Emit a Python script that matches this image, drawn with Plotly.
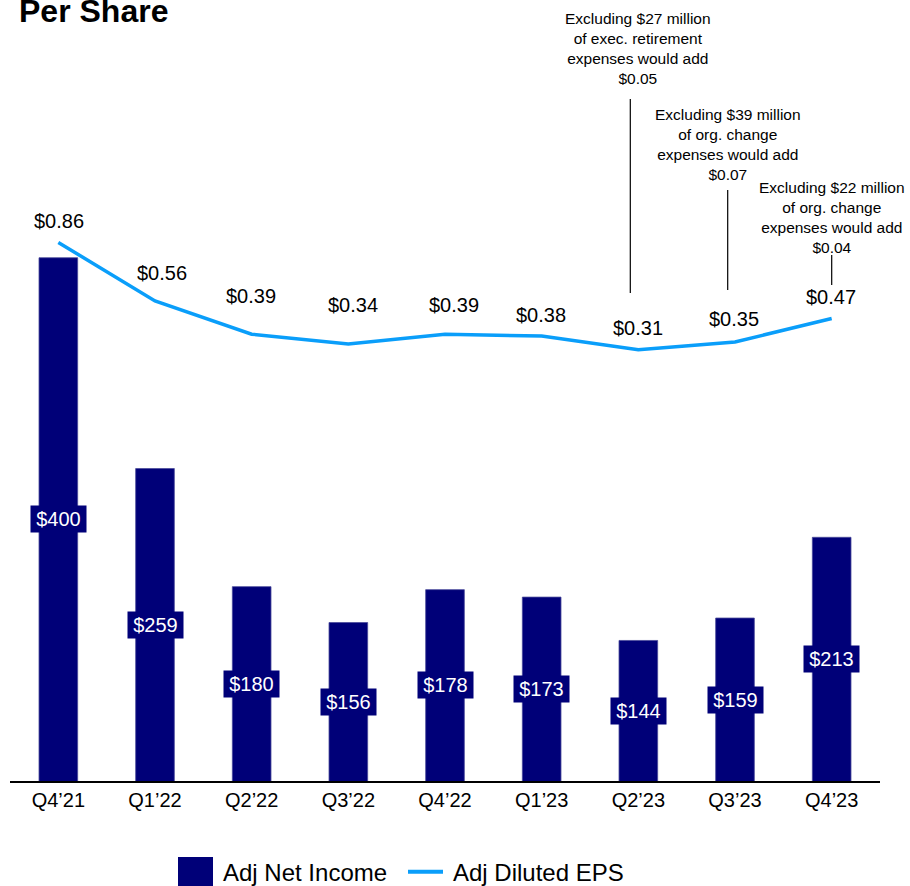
import plotly.graph_objects as go

# Quarterly figures
quarters = ["Q4\u201921", "Q1\u201922", "Q2\u201922", "Q3\u201922", "Q4\u201922",
            "Q1\u201923", "Q2\u201923", "Q3\u201923", "Q4\u201923"]
adj_net_income = [400, 259, 180, 156, 178, 173, 144, 159, 213]   # $ millions
adj_diluted_eps = [0.86, 0.56, 0.39, 0.34, 0.39, 0.38, 0.31, 0.35, 0.47]

# Notes on one-time expenses (quarter, text)
notes = [
    ("Q2\u201923", "Excluding $27 million<br>of exec. retirement<br>expenses would add<br>$0.05"),
    ("Q3\u201923", "Excluding $39 million<br>of org. change<br>expenses would add<br>$0.07"),
    ("Q4\u201923", "Excluding $22 million<br>of org. change<br>expenses would add<br>$0.04"),
]

NAVY = "#000078"
BLUE = "#0A9EFA"
FONT = "Liberation Sans, Arial, sans-serif"

W, H = 910, 886
ML, MR, MT, MB = 10, 30, 20, 105
PW, PH = W - ML - MR, H - MT - MB
Y1 = [50, 559]
Y2 = [-1.9, 2.0]


def px_x(p):
    return (p - ML) / PW


def px_y(p):
    return (H - MB - p) / PH


fig = go.Figure()

fig.add_trace(go.Bar(
    x=quarters, y=adj_net_income, name="Adj Net Income",
    marker=dict(color=NAVY, line=dict(color="#4a4a9a", width=0.8)),
    width=0.4, showlegend=False, hoverinfo="skip",
))

fig.add_trace(go.Scatter(
    x=quarters, y=adj_diluted_eps, name="Adj Diluted EPS", yaxis="y2",
    mode="lines", line=dict(color=BLUE, width=3.5),
    showlegend=False, hoverinfo="skip",
))

annotations = []

# Value boxes centred on the visible part of each bar
for q, v in zip(quarters, adj_net_income):
    annotations.append(dict(
        x=q, y=(v + Y1[0]) / 2, xref="x", yref="y",
        text=f"${v}", showarrow=False,
        font=dict(family=FONT, size=20, color="white"),
        bgcolor=NAVY, borderpad=1, width=53, height=24,
        xanchor="center", yanchor="middle",
    ))

# EPS labels above the line
label_dx = [1, 7, -1, 5, 9, -1, 0, -1, -1]
label_dy = [21, 28, 38, 39, 29, 21, 22, 23, 22]
for q, v, dx, dy in zip(quarters, adj_diluted_eps, label_dx, label_dy):
    annotations.append(dict(
        x=q, y=v, xref="x", yref="y2",
        text=f"${v:.2f}", showarrow=False,
        font=dict(family=FONT, size=20, color="black"),
        xanchor="center", yanchor="middle", xshift=dx, yshift=dy,
    ))

# Expense notes with leader lines
note_text_pos = [(638, 48.5), (727.5, 145), (831.7, 217.5)]
note_lines = [(630.3, 99, 293), (727.7, 190, 290), (831.7, 255, 285)]
shapes = []
for (q, txt), (tx, ty), (lx, ly0, ly1) in zip(notes, note_text_pos, note_lines):
    annotations.append(dict(
        x=px_x(tx), y=px_y(ty), xref="paper", yref="paper",
        text=txt, showarrow=False, align="center",
        font=dict(family=FONT, size=15.5, color="black"),
        xanchor="center", yanchor="middle",
    ))
    shapes.append(dict(
        type="line", xref="paper", yref="paper",
        x0=px_x(lx), x1=px_x(lx), y0=px_y(ly0), y1=px_y(ly1),
        line=dict(color="black", width=1.2),
    ))

# Title
annotations.append(dict(
    x=px_x(17), y=px_y(-9.5), xref="paper", yref="paper",
    text="<b>Per Share</b>", showarrow=False,
    font=dict(family=FONT, size=32, color="black"),
    xanchor="left", yanchor="top",
))

# Legend
shapes.append(dict(type="rect", xref="paper", yref="paper",
                   x0=px_x(178), x1=px_x(213), y0=px_y(857), y1=px_y(886),
                   fillcolor=NAVY, line=dict(width=0)))
shapes.append(dict(type="line", xref="paper", yref="paper",
                   x0=px_x(408), x1=px_x(443), y0=px_y(871.7), y1=px_y(871.7),
                   line=dict(color=BLUE, width=4)))
annotations.append(dict(x=px_x(221), y=px_y(872), xref="paper", yref="paper",
                        text="Adj Net Income", showarrow=False,
                        font=dict(family=FONT, size=24, color="black"),
                        xanchor="left", yanchor="middle"))
annotations.append(dict(x=px_x(451), y=px_y(872), xref="paper", yref="paper",
                        text="Adj Diluted EPS", showarrow=False,
                        font=dict(family=FONT, size=24, color="black"),
                        xanchor="left", yanchor="middle"))

fig.update_layout(
    width=W, height=H,
    margin=dict(l=ML, r=MR, t=MT, b=MB),
    paper_bgcolor="white", plot_bgcolor="white",
    showlegend=False,
    font=dict(family=FONT, color="black"),
    xaxis=dict(
        type="category", range=[-0.5, 8.5],
        showline=True, linecolor="black", linewidth=1.5,
        ticks="", showgrid=False, zeroline=False,
        tickfont=dict(family=FONT, size=20, color="black"),
    ),
    yaxis=dict(range=Y1, showticklabels=False, showgrid=False,
               zeroline=False, showline=False),
    yaxis2=dict(range=Y2, overlaying="y", side="right",
                showticklabels=False, showgrid=False,
                zeroline=False, showline=False),
    annotations=annotations,
    shapes=shapes,
)

fig.write_html("out.html")
